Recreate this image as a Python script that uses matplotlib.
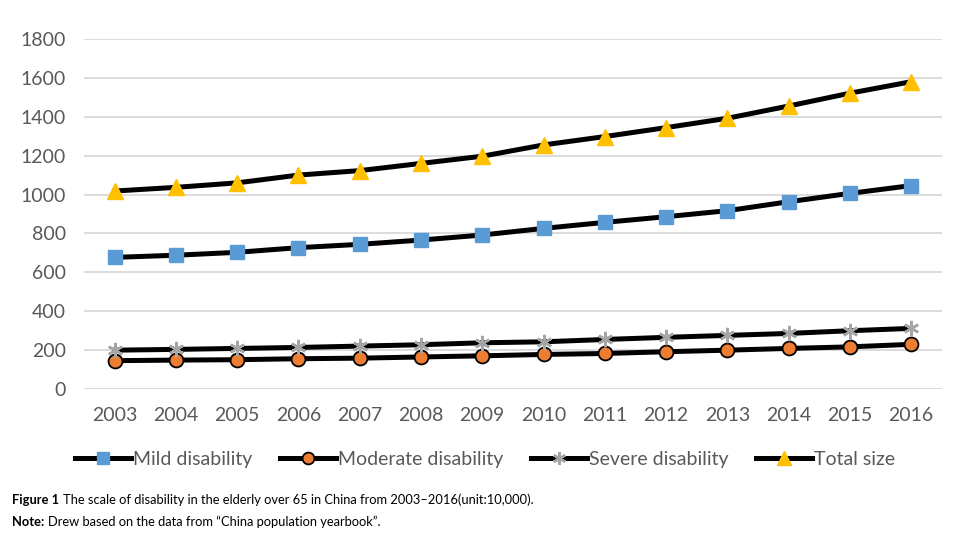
import matplotlib
matplotlib.use('Agg')
import matplotlib.pyplot as plt

plt.rcParams['font.family'] = ['Lato', 'DejaVu Sans']

years = list(range(2003, 2017))
mild = [677, 688, 703, 727, 744, 766, 792, 826, 857, 886, 917, 963, 1006, 1046]
moderate = [146, 149, 151, 156, 159, 165, 171, 178, 183, 192, 200, 209, 217, 230]
severe = [200, 204, 209, 214, 221, 228, 238, 243, 255, 266, 276, 286, 300, 312]
total = [1018, 1037, 1060, 1100, 1123, 1160, 1197, 1255, 1298, 1344, 1392, 1455, 1521, 1580]
labels = ['Mild disability', 'Moderate disability', 'Severe disability', 'Total size']

fig = plt.figure(figsize=(9.76, 5.48), dpi=100)
ax = fig.add_axes([0.086, 0.290, 0.879, 0.639])

lw = 3.6
ax.plot(years, mild, color='black', lw=lw, marker='s', ms=10.5,
        mfc='#5B9BD5', mec='#5B9BD5', label=labels[0], zorder=3)
ax.plot(years, moderate, color='black', lw=lw, marker='o', ms=10,
        mfc='#ED7D31', mec='black', mew=1.3, label=labels[1], zorder=3)
ax.plot(years, severe, color='black', lw=lw, marker=(6, 2, 0), ms=11,
        mfc='#A5A5A5', mec='#A5A5A5', mew=1.8, label=labels[2], zorder=3)
ax.plot(years, total, color='black', lw=lw, marker='^', ms=11.5,
        mfc='#FFC000', mec='#FFC000', label=labels[3], zorder=3)

ax.set_xlim(2002.5, 2016.5)
ax.set_ylim(0, 1800)
ax.set_yticks(range(0, 1801, 200))
ax.set_xticks(years)
ax.grid(axis='y', color='#D9D9D9', lw=1.3)
ax.set_axisbelow(True)
for s in ax.spines.values():
    s.set_visible(False)
ax.tick_params(axis='both', length=0, labelsize=14, labelcolor='#595959')
ax.tick_params(axis='y', pad=13)
ax.tick_params(axis='x', pad=13)

handles, lbls = ax.get_legend_handles_labels()
fig.legend(handles, lbls, loc='center', bbox_to_anchor=(0.497, 0.161), ncol=4,
           frameon=False, fontsize=14, labelcolor='#595959', handlelength=2.9,
           handletextpad=0.1, columnspacing=1.4, markerscale=0.85)

fig.canvas.draw()
r = fig.canvas.get_renderer()
capsize = 9.3
t1 = fig.text(0.012, 0.088, 'Figure 1', fontsize=capsize, fontweight='bold', va='center')
t2 = fig.text(0.012, 0.047, 'Note:', fontsize=capsize, fontweight='bold', va='center')
fig.canvas.draw()
w1 = t1.get_window_extent(r).width / fig.bbox.width
w2 = t2.get_window_extent(r).width / fig.bbox.width
fig.text(0.012 + w1 + 0.004, 0.088,
         'The scale of disability in the elderly over 65 in China from 2003\u20132016(unit:10,000).',
         fontsize=capsize, va='center')
fig.text(0.012 + w2 + 0.004, 0.047,
         'Drew based on the data from \u201cChina population yearbook\u201d.',
         fontsize=capsize, va='center')

fig.savefig('out.png', dpi=100)
